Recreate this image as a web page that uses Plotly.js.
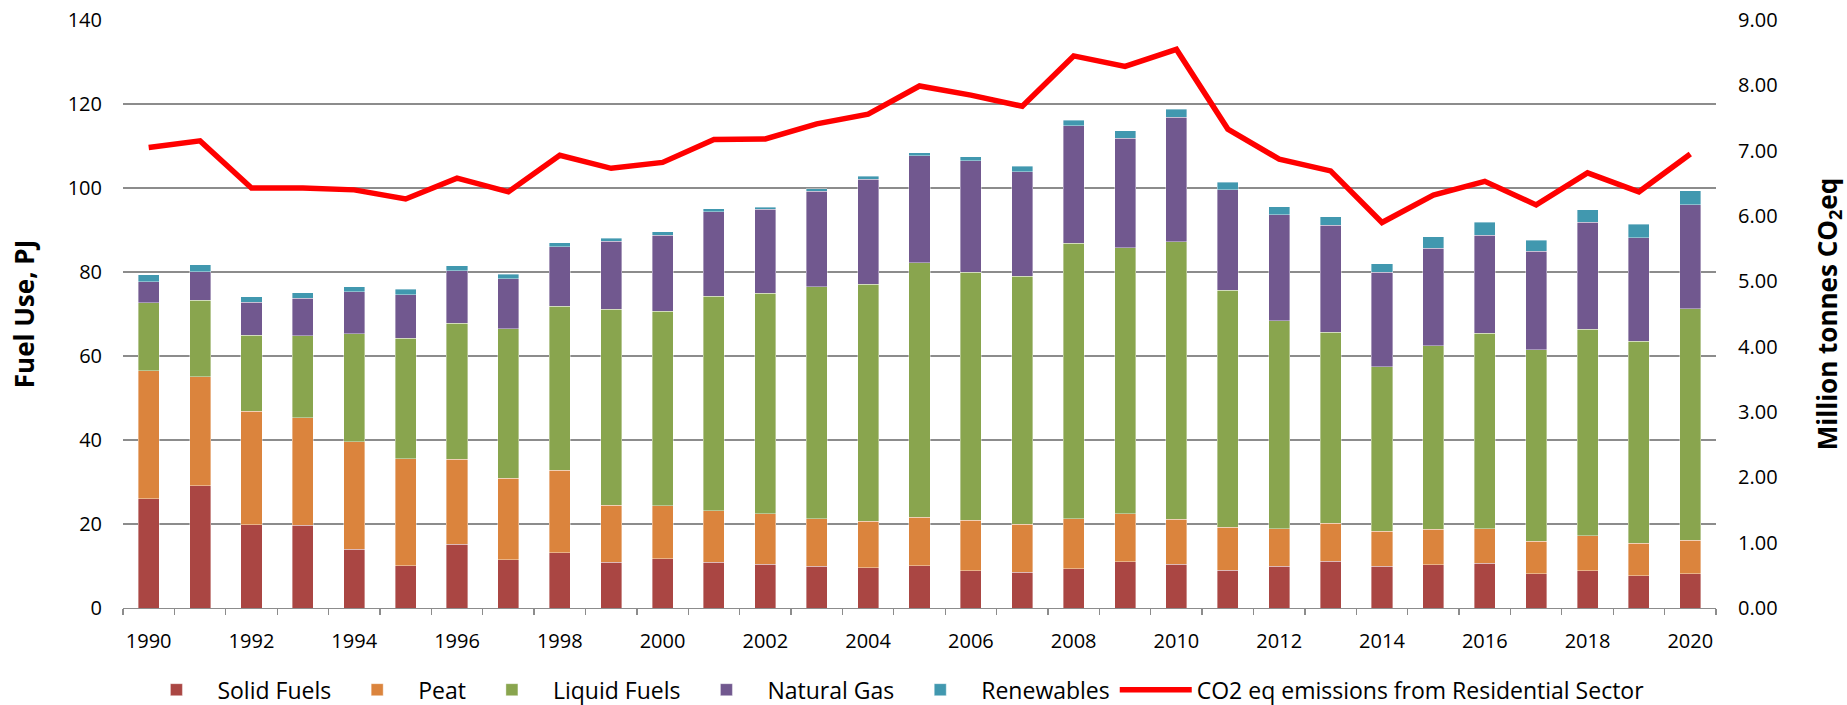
<!DOCTYPE html>
<html>
<head>
<meta charset="utf-8">
<script src="https://cdn.plot.ly/plotly-3.0.1.min.js"></script>
<style>
  html, body { margin: 0; padding: 0; background: #ffffff; }
  #chart { width: 1847px; height: 705px; }
</style>
</head>
<body>
<div id="chart"></div>
<script>
const years = [1990,1991,1992,1993,1994,1995,1996,1997,1998,1999,2000,2001,2002,2003,2004,2005,2006,2007,2008,2009,2010,2011,2012,2013,2014,2015,2016,2017,2018,2019,2020];
const solidFuels  = [26.0,29.1,19.8,19.7,14.0,10.1,15.2,11.5,13.1,10.9,11.7,10.9,10.4,9.9,9.6,10.1,8.9,8.5,9.4,11.0,10.4,9.0,9.9,11.1,9.9,10.3,10.6,8.1,8.9,7.7,8.2];
const peat        = [30.5,26.0,27.0,25.6,25.6,25.4,20.2,19.4,19.7,13.6,12.6,12.2,12.1,11.3,11.1,11.5,12.0,11.4,11.8,11.5,10.7,10.2,9.0,9.1,8.4,8.4,8.3,7.8,8.3,7.7,7.9];
const liquidFuels = [16.2,18.2,18.1,19.5,25.7,28.7,32.4,35.6,39.0,46.6,46.3,51.1,52.4,55.3,56.4,60.6,59.0,59.1,65.6,63.3,66.1,56.5,49.5,45.4,39.2,43.8,46.5,45.6,49.2,48.1,55.2];
const naturalGas  = [5.0,6.8,7.9,9.0,10.0,10.4,12.5,11.9,14.2,16.2,18.2,20.2,20.0,22.7,25.0,25.5,26.6,24.9,28.0,26.1,29.7,23.9,25.2,25.5,22.4,23.2,23.4,23.4,25.4,24.7,24.7];
const renewables  = [1.7,1.6,1.3,1.3,1.2,1.3,1.2,1.1,1.0,0.7,0.8,0.7,0.5,0.6,0.7,0.7,0.9,1.3,1.3,1.7,1.8,1.8,1.9,2.0,2.1,2.7,3.0,2.7,3.0,3.2,3.4];
const co2Emissions = [7.05,7.15,6.43,6.43,6.40,6.26,6.58,6.37,6.93,6.73,6.82,7.17,7.18,7.41,7.56,7.99,7.85,7.68,8.45,8.29,8.55,7.33,6.87,6.69,5.90,6.32,6.53,6.17,6.66,6.37,6.95];
const xTickYears = [1990,1992,1994,1996,1998,2000,2002,2004,2006,2008,2010,2012,2014,2016,2018,2020];

const barSeries = [
  {name: 'Solid Fuels',  y: solidFuels,  color: '#AA4643'},
  {name: 'Peat',         y: peat,        color: '#DB843D'},
  {name: 'Liquid Fuels', y: liquidFuels, color: '#89A54E'},
  {name: 'Natural Gas',  y: naturalGas,  color: '#71588F'},
  {name: 'Renewables',   y: renewables,  color: '#4198AF'}
];

const traces = barSeries.map(s => ({
  type: 'bar',
  name: s.name,
  x: years,
  y: s.y,
  marker: {color: s.color, line: {color: 'rgba(255,255,255,0.55)', width: 0.7}},
  hoverinfo: 'x+y+name'
}));

traces.push({
  type: 'scatter',
  mode: 'lines',
  name: 'CO2 eq emissions from Residential Sector',
  x: years,
  y: co2Emissions,
  yaxis: 'y2',
  line: {color: '#FF0000', width: 5.5}
});

const layout = {
  width: 1847,
  height: 705,
  margin: {l: 123, r: 131, t: 20, b: 97, pad: 0, autoexpand: false},
  paper_bgcolor: '#ffffff',
  plot_bgcolor: '#ffffff',
  font: {family: 'Open Sans, sans-serif', color: '#000000', size: 20},
  barmode: 'stack',
  bargap: 0.59,
  showlegend: true,
  legend: {
    orientation: 'h',
    x: 0.483,
    xanchor: 'center',
    y: -0.139,
    yanchor: 'middle',
    traceorder: 'normal',
    font: {size: 23, family: 'Open Sans, sans-serif'},
    itemwidth: 72,
    bgcolor: 'rgba(0,0,0,0)'
  },
  xaxis: {
    type: 'linear',
    range: [1989.5, 2020.5],
    tickmode: 'array',
    tickvals: xTickYears,
    ticktext: xTickYears.map(String),
    ticks: '',
    ticklabelstandoff: 15,
    showgrid: false,
    zeroline: false,
    showline: true,
    linecolor: '#8c8c8c',
    linewidth: 1.3,
    tickfont: {size: 20},
    minor: {tick0: 1989.5, dtick: 1, ticks: 'outside', ticklen: 6, tickcolor: '#8c8c8c', tickwidth: 1.3, showgrid: false}
  },
  yaxis: {
    range: [0, 140],
    dtick: 20,
    tick0: 0,
    showgrid: true,
    gridcolor: '#8c8c8c',
    gridwidth: 1.3,
    zeroline: false,
    showline: false,
    ticks: '',
    ticklabelstandoff: 20,
    tickfont: {size: 20},
    title: {text: 'Fuel Use, PJ', font: {size: 26, family: 'Open Sans, sans-serif', weight: 'bold'}, standoff: 25}
  },
  yaxis2: {
    range: [0, 9],
    dtick: 1,
    tick0: 0,
    tickformat: '.2f',
    overlaying: 'y',
    side: 'right',
    showgrid: false,
    zeroline: false,
    showline: false,
    ticks: '',
    ticklabelstandoff: 21,
    tickfont: {size: 20},
    title: {text: 'Million tonnes CO<sub>2</sub>eq', font: {size: 26, family: 'Open Sans, sans-serif', weight: 'bold'}, standoff: 48}
  }
};

Plotly.newPlot('chart', traces, layout, {displayModeBar: false, staticPlot: true});
</script>
</body>
</html>
